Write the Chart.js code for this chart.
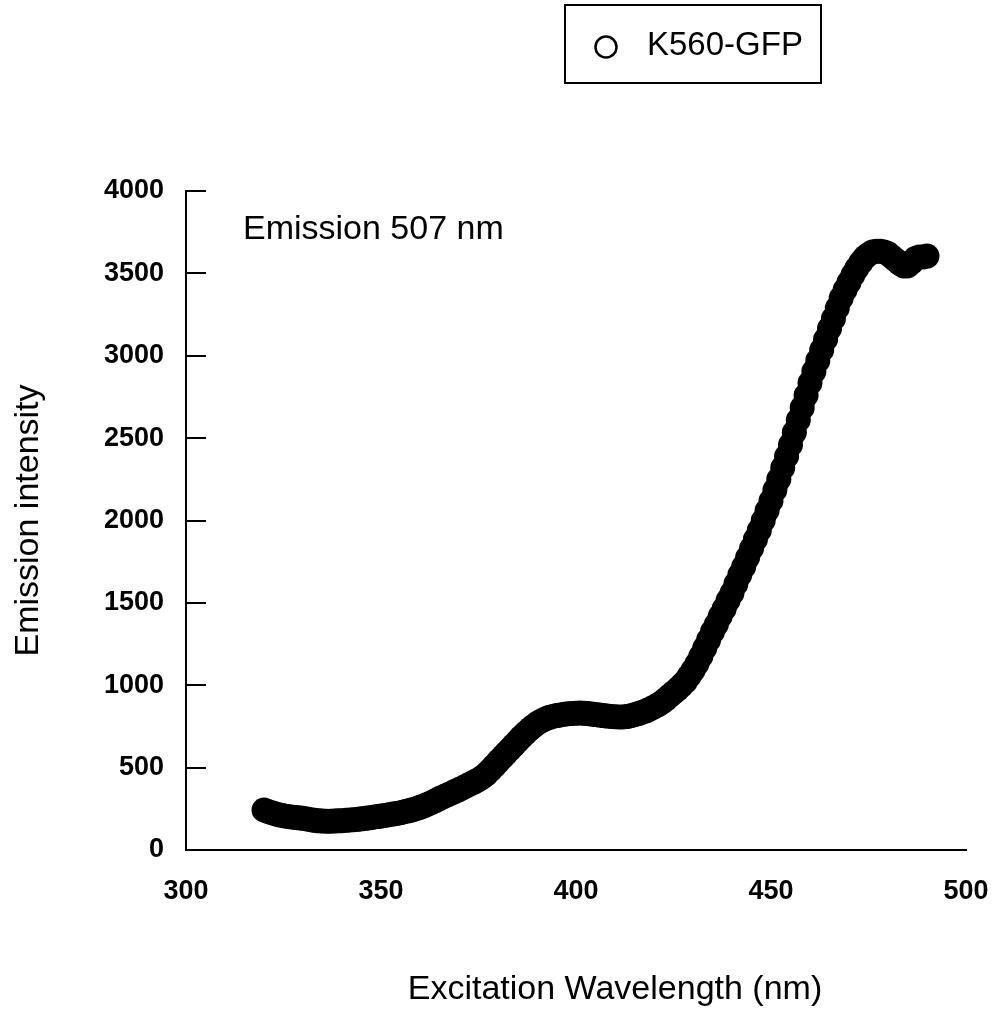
<!DOCTYPE html>
<html>
<head>
<meta charset="utf-8">
<title>K560-GFP excitation spectrum</title>
<script src="https://cdn.jsdelivr.net/npm/chart.js@4.4.1/dist/chart.umd.min.js"></script>
<style>
  html, body { margin: 0; padding: 0; background: #fff; }
  #wrap { width: 994px; height: 1011px; }
</style>
</head>
<body>
<div id="wrap"><canvas id="spectrum" width="994" height="1011"></canvas></div>
<script>
// labels
const seriesName = "K560-GFP";
const annotation = "Emission 507 nm";
const xTitle = "Excitation Wavelength (nm)";
const yTitle = "Emission intensity";

// axis ticks
const xTicks = [300, 350, 400, 450, 500];
const yTicks = [0, 500, 1000, 1500, 2000, 2500, 3000, 3500, 4000];

// excitation wavelength (nm)
const wavelength = [
  320, 321, 322, 323, 324, 325, 326, 327, 328, 329,
  330, 331, 332, 333, 334, 335, 336, 337, 338, 339,
  340, 341, 342, 343, 344, 345, 346, 347, 348, 349,
  350, 351, 352, 353, 354, 355, 356, 357, 358, 359,
  360, 361, 362, 363, 364, 365, 366, 367, 368, 369,
  370, 371, 372, 373, 374, 375, 376, 377, 378, 379,
  380, 381, 382, 383, 384, 385, 386, 387, 388, 389,
  390, 391, 392, 393, 394, 395, 396, 397, 398, 399,
  400, 401, 402, 403, 404, 405, 406, 407, 408, 409,
  410, 411, 412, 413, 414, 415, 416, 417, 418, 419,
  420, 421, 422, 423, 424, 425, 426, 427, 428, 429,
  430, 431, 432, 433, 434, 435, 436, 437, 438, 439,
  440, 441, 442, 443, 444, 445, 446, 447, 448, 449,
  450, 451, 452, 453, 454, 455, 456, 457, 458, 459,
  460, 461, 462, 463, 464, 465, 466, 467, 468, 469,
  470, 471, 472, 473, 474, 475, 476, 477, 478, 479,
  480, 481, 482, 483, 484, 485, 486, 487, 488, 489,
  490
];

// emission intensity at 507 nm
const intensity = [
  243, 234, 226, 219, 213, 208, 204, 201, 198, 195,
  192, 188, 184, 180, 177, 176, 175, 175, 176, 177,
  178, 180, 182, 184, 186, 189, 192, 195, 199, 203,
  206, 210, 214, 218, 222, 226, 232, 238, 244, 251,
  259, 268, 278, 289, 300, 312, 323, 334, 345, 356,
  367, 378, 390, 402, 414, 427, 442, 461, 484, 509,
  535, 560, 585, 610, 635, 660, 685, 708, 730, 750,
  768, 782, 794, 804, 811, 816, 820, 824, 827, 829,
  830, 831, 830, 828, 825, 822, 819, 816, 813, 811,
  809, 808, 808, 810, 815, 821, 828, 836, 845, 856,
  868, 880, 896, 914, 935, 955, 975, 998, 1022, 1055,
  1090, 1130, 1175, 1225, 1275, 1325, 1370, 1420, 1465, 1515,
  1560, 1615, 1670, 1720, 1775, 1830, 1885, 1940, 2000, 2060,
  2120, 2185, 2250, 2320, 2390, 2460, 2535, 2610, 2685, 2760,
  2835, 2905, 2970, 3035, 3100, 3165, 3225, 3290, 3350, 3400,
  3445, 3490, 3530, 3565, 3595, 3615, 3630, 3635, 3635, 3630,
  3620, 3600, 3580, 3560, 3545, 3545, 3565, 3590, 3600, 3600,
  3605
];

const FONT = "'Liberation Sans', Arial, Helvetica, sans-serif";
Chart.defaults.font.family = FONT;
Chart.defaults.color = "#000";

// inward y ticks, boxed legend, inset note and x title
const decorations = {
  id: "decorations",
  afterDraw(chart) {
    const { ctx, chartArea, scales } = chart;
    const y = scales.y;
    ctx.save();
    ctx.strokeStyle = "#000";
    ctx.lineWidth = 2;
    y.ticks.forEach(t => {
      const py = Math.round(y.getPixelForValue(t.value));
      ctx.beginPath();
      ctx.moveTo(chartArea.left, py);
      ctx.lineTo(chartArea.left + 20, py);
      ctx.stroke();
    });

    // legend
    ctx.strokeRect(565, 5, 256, 78);
    ctx.lineWidth = 2.5;
    ctx.beginPath();
    ctx.arc(606, 47, 10.5, 0, Math.PI * 2);
    ctx.stroke();
    ctx.fillStyle = "#000";
    ctx.textBaseline = "middle";
    ctx.textAlign = "left";
    ctx.font = "33px " + FONT;
    ctx.fillText(seriesName, 647, 46);

    ctx.font = "34px " + FONT;
    ctx.fillText(annotation, 243, 230);

    ctx.textAlign = "center";
    ctx.fillText(xTitle, 615, 990);
    ctx.restore();
  }
};

const plain = v => String(v);

const ctx = document.getElementById("spectrum").getContext("2d");
const chart = new Chart(ctx, {
  type: "scatter",
  data: {
    datasets: [{
      label: seriesName,
      data: wavelength.map((w, i) => ({ x: w, y: intensity[i] })),
      showLine: true,
      borderColor: "#000",
      borderWidth: 20,
      borderCapStyle: "round",
      borderJoinStyle: "round",
      pointRadius: 12.5,
      pointBackgroundColor: "#000",
      pointBorderColor: "#000",
      pointBorderWidth: 0
    }]
  },
  options: {
    responsive: false,
    animation: false,
    layout: { padding: { top: 191, right: 28, bottom: 0, left: 0 } },
    plugins: {
      legend: { display: false },
      tooltip: { enabled: false }
    },
    scales: {
      x: {
        type: "linear",
        min: xTicks[0],
        max: xTicks[xTicks.length - 1],
        ticks: { stepSize: xTicks[1] - xTicks[0], padding: 25, callback: plain, font: { size: 27, weight: "bold" } },
        grid: { display: false, drawTicks: false },
        border: { display: true, color: "#000", width: 2 },
        afterFit: s => { s.height = 161; s.paddingLeft = 0; s.paddingRight = 0; }
      },
      y: {
        min: yTicks[0],
        max: yTicks[yTicks.length - 1],
        ticks: { stepSize: yTicks[1] - yTicks[0], padding: 22, callback: plain, font: { size: 27, weight: "bold" } },
        grid: { display: false, drawTicks: false },
        border: { display: true, color: "#000", width: 2 },
        title: { display: true, text: yTitle, font: { size: 34 }, padding: { top: 8, bottom: 0 } },
        afterFit: s => { s.width = 186; }
      }
    }
  },
  plugins: [decorations]
});
</script>
</body>
</html>
